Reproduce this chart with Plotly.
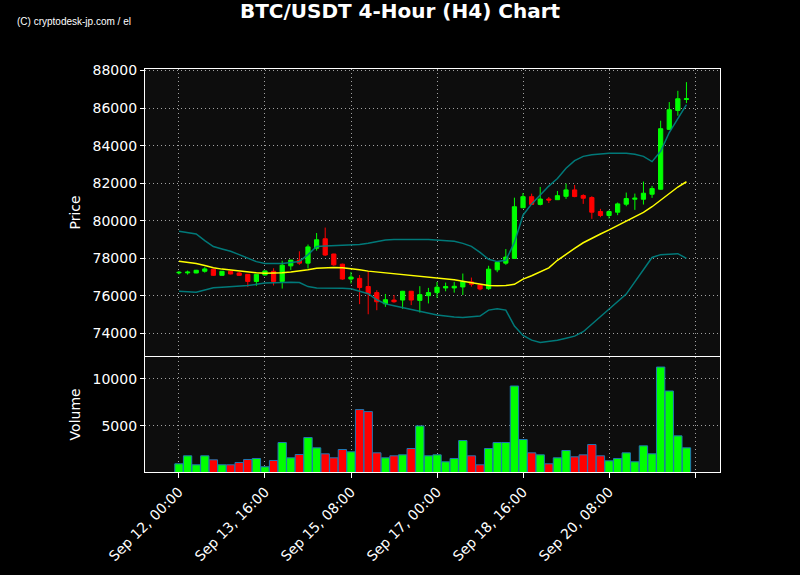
import pandas as pd
import plotly.graph_objects as go

# ---- data ----
times = pd.date_range("2025-09-12 00:00", periods=60, freq="4h")

opens = [77230, 77230, 77225, 77315, 77423, 77099, 77315, 77225, 77153, 76775,
         77117, 77315, 76775, 77604, 77910, 77748, 78541, 79045, 78234, 77694,
         76901, 76937, 76504, 76180, 75585, 75784, 75784, 76252, 75766, 76017,
         76180, 76428, 76428, 76481, 76749, 76588, 76392, 77392, 77749, 78000,
         80696, 81286, 80875, 81161, 81125, 81304, 81646, 81345, 81239, 80495,
         80283, 80460, 80885, 81150, 81150, 81416, 81681, 84867, 85876, 86460]
closes = [77260, 77270, 77370, 77440, 77099, 77315, 77171, 77099, 76775, 77153,
          77333, 76775, 77640, 77910, 77748, 78613, 78991, 78180, 77658, 76901,
          77009, 76450, 76126, 75693, 75802, 75693, 76252, 75784, 76072, 76180,
          76468, 76499, 76517, 76767, 76624, 76374, 77428, 77785, 78071, 80750,
          81286, 80875, 81161, 81107, 81339, 81646, 81292, 81203, 80460, 80283,
          80495, 80902, 81185, 81203, 81469, 81717, 84903, 85912, 86496, 86496]
highs = [77330, 77350, 77390, 77532, 77440, 77330, 77350, 77280, 77170, 77170,
         77350, 77477, 77874, 77920, 78378, 78739, 79351, 79640, 78250, 77720,
         77280, 77117, 77333, 76306, 76108, 76054, 76270, 76270, 76522, 76432,
         76745, 76713, 76749, 77196, 76981, 76610, 77607, 77800, 78500, 81232,
         81482, 81446, 81804, 81268, 81589, 81982, 81911, 81415, 81310, 80637,
         80566, 80973, 81504, 81450, 82088, 81858, 85327, 86319, 86920, 87381]
lows = [77150, 77140, 77210, 77243, 77063, 77090, 77153, 77063, 76486, 76540,
        77100, 76558, 76396, 77387, 77658, 77460, 78414, 78126, 77604, 76865,
        76667, 75567, 75027, 75243, 75423, 75640, 75315, 75513, 75117, 75603,
        75900, 76250, 76178, 76053, 76499, 76303, 76320, 77267, 77660, 77990,
        80678, 80860, 80821, 80946, 81110, 81168, 81256, 80902, 80106, 80194,
        80124, 80300, 80778, 80584, 80867, 81221, 81660, 84850, 85593, 86265]

volumes = [954, 1805, 847, 1805, 1379, 847, 847, 1096, 1415, 1521,
           635, 1308, 3223, 1592, 1947, 3755, 2656, 2018, 1592, 2479,
           2230, 6735, 6522, 2124, 1592, 1805, 1911, 2585, 4996, 1805,
           1911, 1167, 1521, 3436, 1805, 847, 2585, 3223, 3223, 9250,
           3542, 2124, 1911, 954, 1592, 2372, 1698, 1911, 3010, 1805,
           1273, 1521, 2124, 1167, 2869, 2018, 11273, 8718, 3932, 2656]

mid_band = [77855, 77800, 77732, 77620, 77500, 77430, 77376, 77320, 77270, 77240,
            77216, 77220, 77234, 77280, 77323, 77400, 77482, 77510, 77518, 77500,
            77465, 77400, 77323, 77280, 77234, 77190, 77150, 77100, 77040, 77000,
            76950, 76910, 76866, 76790, 76706, 76630, 76562, 76540, 76553, 76624,
            76900, 77080, 77300, 77500, 77900, 78230, 78530, 78833, 79080, 79300,
            79520, 79750, 79990, 80220, 80450, 80750, 81100, 81450, 81800, 82079]
upper_band = [79450, 79380, 79300, 78950, 78630, 78500, 78380, 78200, 78000, 77830,
              77730, 77720, 77730, 77780, 77840, 78200, 78630, 78660, 78670, 78680,
              78690, 78740, 78810, 78900, 78980, 79000, 79010, 79010, 79010, 79000,
              78980, 78950, 78910, 78800, 78640, 78320, 77950, 77830, 77900, 78850,
              80300, 80900, 81400, 81850, 82250, 82800, 83200, 83430, 83520, 83570,
              83590, 83600, 83600, 83540, 83430, 83150, 83700, 84700, 85450, 86180]
lower_band = [76255, 76230, 76200, 76320, 76435, 76470, 76490, 76540, 76560, 76620,
              76685, 76700, 76720, 76738, 76720, 76500, 76430, 76430, 76430, 76410,
              76380, 76250, 76120, 75800, 75580, 75480, 75380, 75300, 75200, 75100,
              74990, 74940, 74880, 74860, 74880, 74930, 75250, 75320, 75250, 74400,
              73900, 73650, 73520, 73570, 73640, 73750, 73865, 74100, 74500, 74880,
              75250, 75650, 76100, 76750, 77400, 78050, 78200, 78230, 78250, 78000]

tick_vals = ["2025-09-12 00:00", "2025-09-13 16:00", "2025-09-15 08:00",
             "2025-09-17 00:00", "2025-09-18 16:00", "2025-09-20 08:00",
             "2025-09-22 00:00"]
tick_text = ["Sep 12, 00:00", "Sep 13, 16:00", "Sep 15, 08:00",
             "Sep 17, 00:00", "Sep 18, 16:00", "Sep 20, 08:00", ""]
price_ticks = [74000, 76000, 78000, 80000, 82000, 84000, 86000, 88000]
volume_ticks = [5000, 10000]

UP = "#00ff00"
DOWN = "#ff0000"
vol_colors = [UP if c >= o else DOWN for o, c in zip(opens, closes)]

fig = go.Figure()

fig.add_trace(go.Scatter(x=times, y=upper_band, mode="lines",
                         line=dict(color="rgba(0,128,128,0.95)", width=1.5),
                         xaxis="x", yaxis="y", showlegend=False, hoverinfo="skip"))
fig.add_trace(go.Scatter(x=times, y=lower_band, mode="lines",
                         line=dict(color="rgba(0,128,128,0.95)", width=1.5),
                         xaxis="x", yaxis="y", showlegend=False, hoverinfo="skip"))
fig.add_trace(go.Scatter(x=times, y=mid_band, mode="lines",
                         line=dict(color="#ffff00", width=1.5),
                         xaxis="x", yaxis="y", showlegend=False, hoverinfo="skip"))
fig.add_trace(go.Candlestick(
    x=times, open=opens, high=highs, low=lows, close=closes,
    increasing=dict(line=dict(color=UP, width=1), fillcolor=UP),
    decreasing=dict(line=dict(color=DOWN, width=1), fillcolor=DOWN),
    whiskerwidth=0, xaxis="x", yaxis="y", showlegend=False))

fig.add_trace(go.Bar(x=times, y=volumes, marker=dict(color=vol_colors,
                     line=dict(color="#1f77b4", width=1)),
                     xaxis="x2", yaxis="y2", showlegend=False))

x_range = ["2025-09-11 08:12", "2025-09-22 11:36"]
grid = dict(showgrid=True, gridcolor="rgba(200,200,200,0.8)", griddash="1px,3px",
            gridwidth=1, automargin=False)
axline = dict(showline=True, linecolor="white", linewidth=1.2, mirror=True)
tickfont = dict(family="DejaVu Sans", size=14, color="white")
titlefont = dict(family="DejaVu Sans", size=14, color="white")

W, H = 800, 575
ML, MT = 145, 69
PW, PH = 575, 403.5
MR = W - ML - PW
MB = H - MT - PH

fig.update_layout(
    width=W, height=H,
    paper_bgcolor="black", plot_bgcolor="#0d0d0d",
    margin=dict(l=ML, r=MR, t=MT, b=MB, autoexpand=False),
    bargap=0.03, boxgap=0.3,
    title=dict(text="<b>BTC/USDT 4-Hour (H4) Chart</b>", x=400 / W, xanchor="center",
               xref="container", y=1 - 11 / H, yanchor="middle",
               font=dict(family="DejaVu Sans", size=20, color="white")),
    xaxis=dict(domain=[0, 1], anchor="y", range=x_range, type="date",
               tickvals=tick_vals, ticktext=tick_text, showticklabels=False,
               ticks="", rangeslider=dict(visible=False), **grid, **axline),
    yaxis=dict(domain=[0.288, 1], anchor="x", range=[72810, 88080],
               tickvals=price_ticks, tickformat="d", ticks="outside", ticklen=4,
               tickcolor="white", tickfont=tickfont,
               title=dict(text="Price", font=titlefont, standoff=8),
               **grid, **axline),
    xaxis2=dict(domain=[0, 1], anchor="y2", range=x_range, type="date", matches="x",
                tickvals=tick_vals, ticktext=tick_text, tickangle=-45,
                ticks="outside", ticklen=5, tickcolor="white", tickfont=tickfont,
                **grid, **axline),
    yaxis2=dict(domain=[0, 0.286], anchor="x2", range=[80, 12370],
                tickvals=volume_ticks, tickformat="d", ticks="outside", ticklen=4,
                tickcolor="white", tickfont=tickfont,
                title=dict(text="Volume", font=titlefont, standoff=8),
                **grid, **axline),
    annotations=[dict(text="(C) cryptodesk-jp.com / el", xref="paper", yref="paper",
                      x=(15 - ML) / PW, y=(H - MB - 21) / PH, xanchor="left",
                      yanchor="middle", showarrow=False,
                      font=dict(family="Liberation Sans", size=10, color="white"))],
)

fig.write_html("out.html",
               config={"displayModeBar": False},
               post_script="document.body.style.margin='0';"
                           "document.body.style.backgroundColor='black';")
